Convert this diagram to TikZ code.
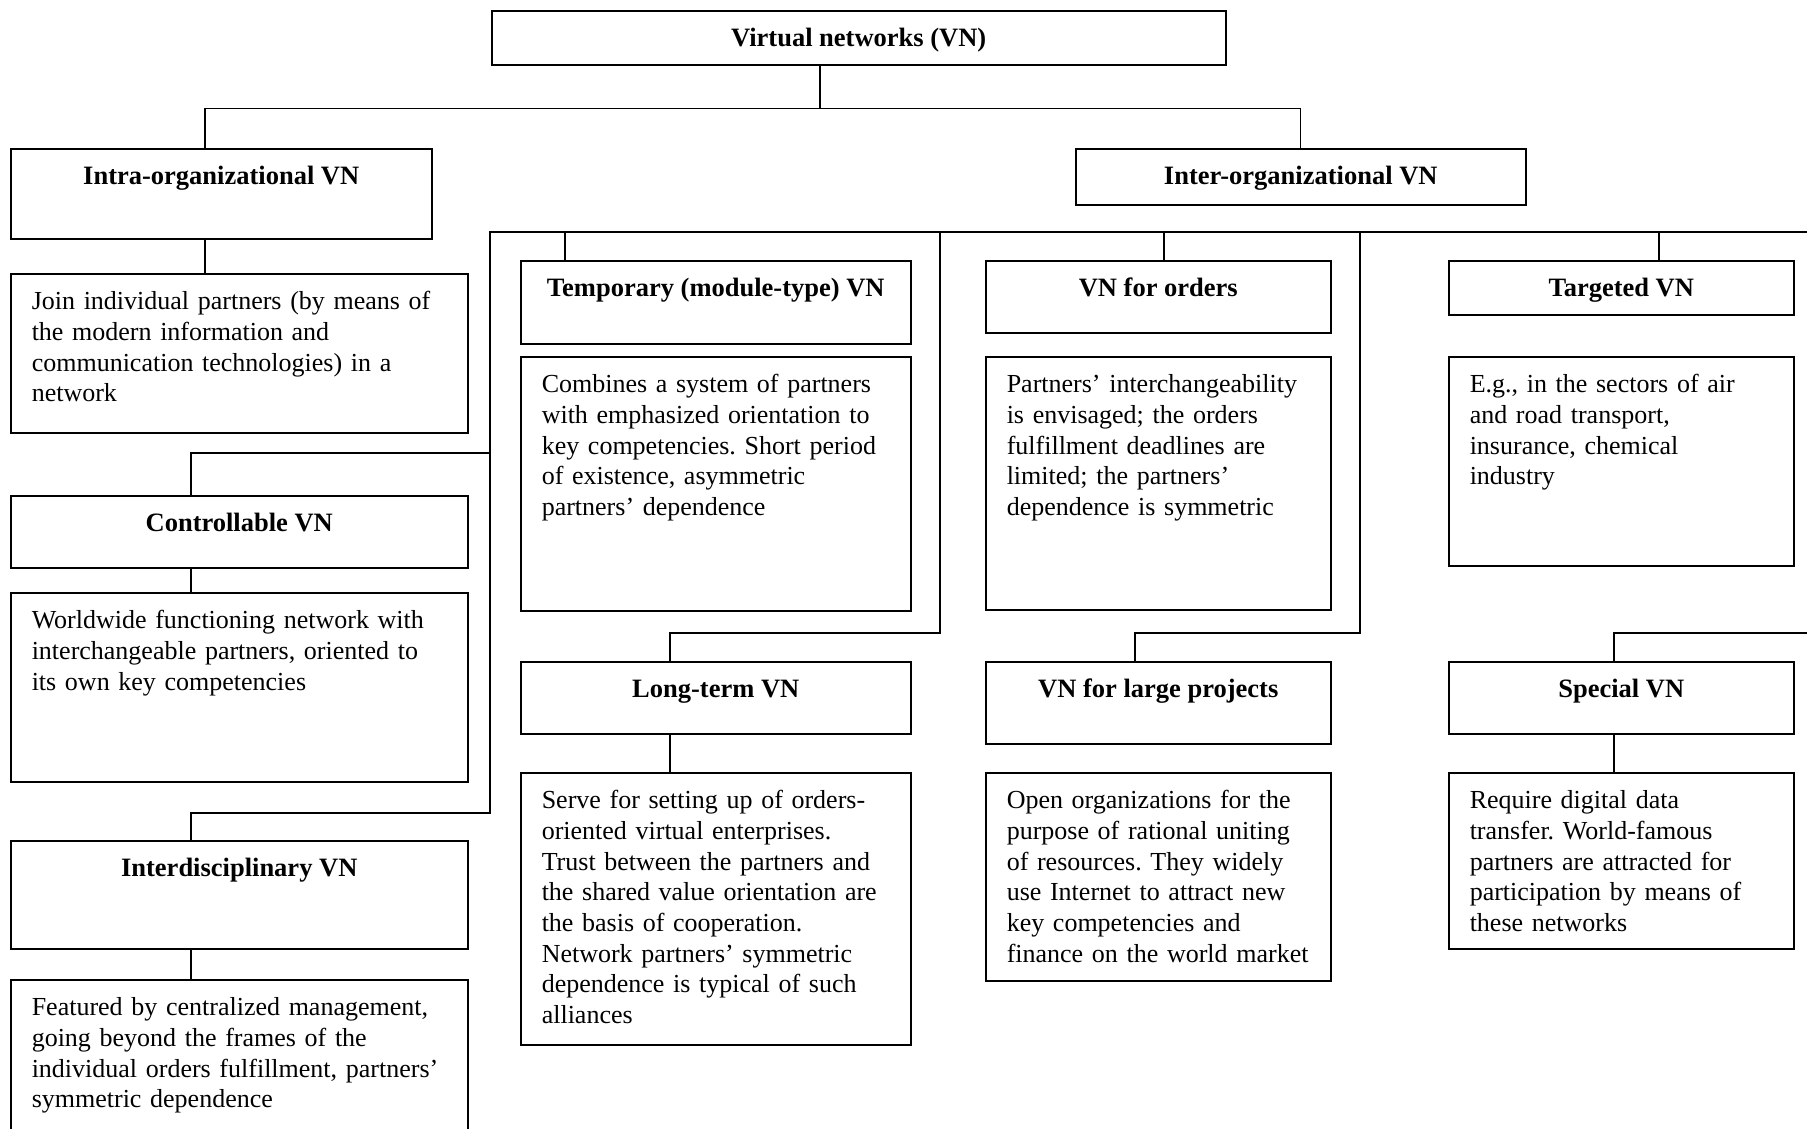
\documentclass[tikz,border=0pt]{standalone}
\usepackage{fontspec}
\setmainfont{Liberation Serif}
\usepackage{tikz}
\frenchspacing
\newcommand{\BOXFONT}{\fontsize{26}{30.7}\selectfont\hyphenpenalty=10000}
\newcommand{\HEADFONT}{\fontsize{26.5}{30.7}\selectfont\bfseries}
\tikzset{
  vnhead/.style={draw,line width=1.5pt,font=\HEADFONT,anchor=north west,
    inner xsep=0pt,inner ysep=0pt,text height=36pt},
  vntext/.style={draw,line width=1.5pt,font=\BOXFONT,anchor=north west,align=left,
    inner xsep=21pt,inner ysep=0pt,text height=36pt},
  vnline/.style={line width=1.2pt},
}

\begin{document}
\begin{tikzpicture}[x=1pt,y=-1pt]
    \useasboundingbox (0,0) rectangle (1807,1128);
    \clip (0,0) rectangle (1807,1128);

    % top levels
    \node[vnhead,minimum width=734pt,text depth=18pt] (vn) at (491,10) {Virtual networks (VN)};
    \node[vnhead,minimum width=421pt,text depth=54pt] (intra) at (10,148) {Intra-organizational VN};
    \node[vnhead,minimum width=450pt,text depth=20pt] (inter) at (1075,148) {Inter-organizational VN};

    % left column
    \node[vntext,text width=415pt,text depth=123pt] (intradesc) at (10,273) {Join individual partners (by means of\\ the modern information and\\ communication technologies) in a\\ network};
    \node[vnhead,minimum width=457pt,text depth=36pt] (ctrl) at (10,495) {Controllable VN};
    \node[vntext,text width=415pt,text depth=153pt] (ctrldesc) at (10,592) {Worldwide functioning network with\\ interchangeable partners, oriented to\\ its own key competencies};
    \node[vnhead,minimum width=457pt,text depth=72pt] (idisc) at (10,840) {Interdisciplinary VN};
    \node[vntext,text width=415pt,text depth=164pt] (idiscdesc) at (10,979) {Featured by centralized management,\\ going beyond the frames of the\\ individual orders fulfillment, partners'\\ symmetric dependence};

    % second column
    \node[vnhead,minimum width=390pt,text depth=47pt] (temp) at (520,260) {Temporary (module-type) VN};
    \node[vntext,text width=348pt,text depth=218pt] (tempdesc) at (520,356) {Combines a system of partners\\ with emphasized orientation to\\ key competencies. Short period\\ of existence, asymmetric\\ partners' dependence};
    \node[vnhead,minimum width=390pt,text depth=36pt] (long) at (520,661) {Long-term VN};
    \node[vntext,text width=348pt,text depth=236pt] (longdesc) at (520,772) {Serve for setting up of orders-\\ oriented virtual enterprises.\\ Trust between the partners and\\ the shared value orientation are\\ the basis of cooperation.\\ Network partners' symmetric\\ dependence is typical of such\\ alliances};

    % third column
    \node[vnhead,minimum width=345pt,text depth=36pt] (orders) at (985,260) {VN for orders};
    \node[vntext,text width=303pt,text depth=217pt] (ordersdesc) at (985,356) {Partners' interchangeability\\ is envisaged; the orders\\ fulfillment deadlines are\\ limited; the partners'\\ dependence is symmetric};
    \node[vnhead,minimum width=345pt,text depth=46pt] (large) at (985,661) {VN for large projects};
    \node[vntext,text width=303pt,text depth=172pt] (largedesc) at (985,772) {Open organizations for the\\ purpose of rational uniting\\ of resources. They widely\\ use Internet to attract new\\ key competencies and\\ finance on the world market};

    % fourth column
    \node[vnhead,minimum width=345pt,text depth=18pt] (target) at (1448,260) {Targeted VN};
    \node[vntext,text width=303pt,text depth=173pt] (targetdesc) at (1448,356) {E.g., in the sectors of air\\ and road transport,\\ insurance, chemical\\ industry};
    \node[vnhead,minimum width=345pt,text depth=36pt] (special) at (1448,661) {Special VN};
    \node[vntext,text width=303pt,text depth=140pt] (specialdesc) at (1448,772) {Require digital data\\ transfer. World-famous\\ partners are attracted for\\ participation by means of\\ these networks};

    % junctions
    \coordinate (bus) at (490,232);
    \coordinate (busend) at (1807,232);
    \coordinate (longjoin) at (940,232);
    \coordinate (largejoin) at (1360,232);
    \coordinate (specialjoin) at (1807,633);

    % connectors
    \draw[vnline] ([xshift=329pt]vn.south west) -- ++(0,43) -| ([xshift=195pt]intra.north west);
    \draw[vnline] ([xshift=329pt]vn.south west) -- ++(0,43) -| (inter.north);
    \draw[vnline] ([xshift=195pt]intra.south west) -- ([xshift=195pt]intradesc.north west);
    \draw[vnline] (busend) -- (bus) -- ++(0,581) -| ([xshift=181pt]idisc.north west);
    \draw[vnline] (bus) ++(0,221) -| ([xshift=181pt]ctrl.north west);
    \draw[vnline] ([xshift=181pt]ctrl.south west) -- ([xshift=181pt]ctrldesc.north west);
    \draw[vnline] ([xshift=181pt]idisc.south west) -- ([xshift=181pt]idiscdesc.north west);
    \draw[vnline] ([xshift=45pt]temp.north west) -- ++(0,-28);
    \draw[vnline] (longjoin) -- ++(0,401) -| ([xshift=150pt]long.north west);
    \draw[vnline] ([xshift=150pt]long.south west) -- ([xshift=150pt]longdesc.north west);
    \draw[vnline] ([xshift=179pt]orders.north west) -- ++(0,-28);
    \draw[vnline] (largejoin) -- ++(0,401) -| ([xshift=150pt]large.north west);
    \draw[vnline] ([xshift=211pt]target.north west) -- ++(0,-28);
    \draw[vnline] (specialjoin) -| ([xshift=166pt]special.north west);
    \draw[vnline] ([xshift=166pt]special.south west) -- ([xshift=166pt]specialdesc.north west);
\end{tikzpicture}
\end{document}
